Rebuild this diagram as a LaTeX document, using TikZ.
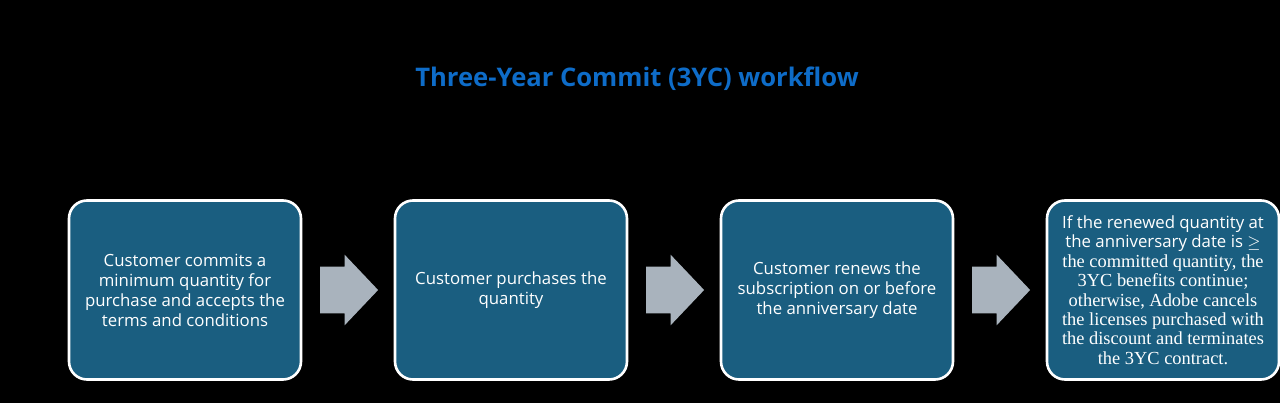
\documentclass[tikz,border=0pt]{standalone}
\usepackage{fontspec}
\setmainfont{Open Sans}
\newfontfamily\timesfont{Liberation Serif}
\usetikzlibrary{shapes,arrows.meta,calc,positioning}
\definecolor{boxteal}{RGB}{26,94,128}
\definecolor{arrowgray}{RGB}{169,179,189}
\definecolor{titleblue}{RGB}{14,108,200}
\tikzset{
    node distance =2 cm and 45.7pt,
    stepbox/.style ={rectangle, rounded corners=9pt, draw=white, line width=1.3pt,
        fill=boxteal, text=white, minimum width=116pt, minimum height=89.5pt,
        align=center, font=\fontsize{8.4}{10}\selectfont},
    blockarrow/.style = {single arrow, fill=arrowgray, minimum height=29pt,
        inner xsep=0pt, inner ysep=11.5pt, single arrow head extend=6pt,
        single arrow tip angle=93, xshift=-5pt, node contents={}},
    heading/.style = {font=\fontsize{12.8}{16}\selectfont\bfseries, text=titleblue}
}
\begin{document}
\begin{tikzpicture}
    \fill[black] (0,0) rectangle (640pt,201.5pt);
    \useasboundingbox (0,0) rectangle (640pt,201.5pt);

    \node[heading] (title) at (318.5pt,162pt) {Three-Year Commit (3YC) workflow};

    \node[stepbox] (commit) at (92.5pt,56.5pt) {Customer commits a\\minimum quantity for\\purchase and accepts the\\terms and conditions};
    \node[stepbox] (buy) [right=of commit] {Customer purchases the\\quantity};
    \node[stepbox] (renew) [right=of buy] {Customer renews the\\subscription on or before\\the anniversary date};
    \node[stepbox, font=\fontsize{8.4}{9.7}\selectfont] (check) [right=of renew] {If the renewed quantity at\\the anniversary date is $\geq$\\
        {\timesfont\fontsize{9.2}{9.7}\selectfont the committed quantity, the}\\
        {\timesfont\fontsize{9.2}{9.7}\selectfont 3YC benefits continue;}\\
        {\timesfont\fontsize{9.2}{9.7}\selectfont otherwise, Adobe cancels}\\
        {\timesfont\fontsize{9.2}{9.7}\selectfont the licenses purchased with}\\
        {\timesfont\fontsize{9.2}{9.7}\selectfont the discount and terminates}\\
        {\timesfont\fontsize{9.2}{9.7}\selectfont the 3YC contract.}};

    \node (a1) at ($(commit.east)!0.5!(buy.west)$) [blockarrow];
    \node (a2) at ($(buy.east)!0.5!(renew.west)$) [blockarrow];
    \node (a3) at ($(renew.east)!0.5!(check.west)$) [blockarrow];
\end{tikzpicture}
\end{document}
